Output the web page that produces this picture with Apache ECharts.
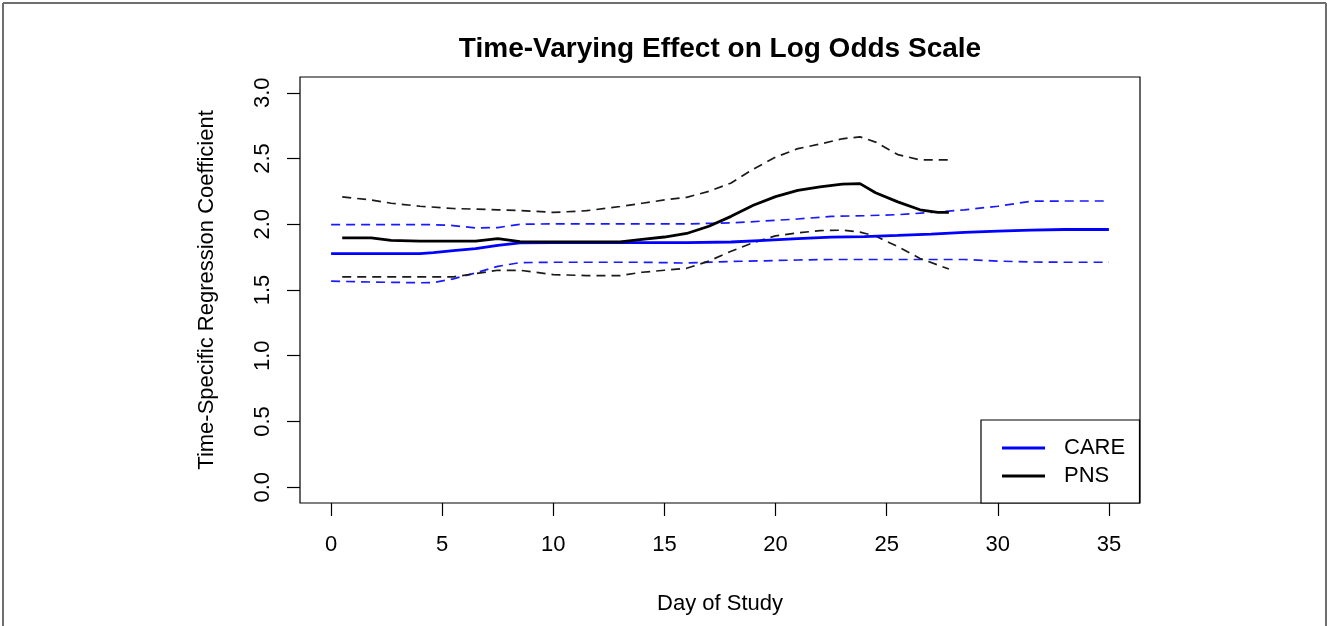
<!DOCTYPE html>
<html>
<head>
<meta charset="utf-8">
<script src="https://cdn.jsdelivr.net/npm/echarts@6/dist/echarts.min.js"></script>
<style>
html,body{margin:0;padding:0;background:#fff;}
#chart{width:1327px;height:626px;}
</style>
</head>
<body>
<div id="chart"></div>
<script>
// ---- Data ----
var xTicks = [0, 5, 10, 15, 20, 25, 30, 35];
var yTicks = [0, 0.5, 1, 1.5, 2, 2.5, 3];

var careDays  = [0, 2, 4, 4.6, 5.5, 6.5, 7.5, 8.5, 10, 12, 14, 16, 18, 19.5, 21, 22.5, 24, 25.5, 27, 28.5, 30, 31.5, 33, 35];
var careEst   = [1.777, 1.777, 1.777, 1.785, 1.800, 1.815, 1.840, 1.858, 1.860, 1.860, 1.860, 1.860, 1.865, 1.877, 1.890, 1.902, 1.906, 1.915, 1.925, 1.938, 1.948, 1.955, 1.960, 1.960];
var careUpper = [1.997, 1.997, 1.997, 1.997, 1.990, 1.972, 1.975, 2.000, 2.003, 2.003, 2.003, 2.003, 2.010, 2.025, 2.040, 2.060, 2.065, 2.073, 2.090, 2.110, 2.137, 2.175, 2.177, 2.177];
var careLower = [1.567, 1.560, 1.555, 1.556, 1.585, 1.630, 1.680, 1.708, 1.711, 1.711, 1.711, 1.705, 1.717, 1.722, 1.728, 1.732, 1.732, 1.732, 1.732, 1.732, 1.720, 1.713, 1.711, 1.711];

var pnsDays  = [0.5, 1.8, 2.7, 4, 5.5, 6.5, 7.5, 8.5, 10, 11.5, 13, 14, 15, 16, 17, 18, 19, 20, 21, 22, 23, 23.8, 24.5, 25.5, 26.5, 27.3, 27.8];
var pnsEst   = [1.896, 1.896, 1.878, 1.871, 1.871, 1.871, 1.890, 1.868, 1.866, 1.866, 1.866, 1.885, 1.903, 1.930, 1.985, 2.060, 2.145, 2.210, 2.258, 2.285, 2.305, 2.309, 2.240, 2.170, 2.110, 2.090, 2.090];
var pnsUpper = [2.208, 2.185, 2.160, 2.137, 2.120, 2.115, 2.110, 2.105, 2.090, 2.103, 2.135, 2.160, 2.185, 2.205, 2.250, 2.314, 2.420, 2.510, 2.575, 2.610, 2.650, 2.665, 2.625, 2.530, 2.490, 2.490, 2.490];
var pnsLower = [1.600, 1.600, 1.600, 1.600, 1.600, 1.625, 1.650, 1.650, 1.617, 1.610, 1.610, 1.635, 1.650, 1.665, 1.720, 1.795, 1.860, 1.912, 1.934, 1.952, 1.955, 1.940, 1.910, 1.830, 1.740, 1.690, 1.660];

var titleText = 'Time-Varying Effect on Log Odds Scale';
var xName = 'Day of Study';
var yName = 'Time-Specific Regression Coefficient';
var legendNames = ['CARE', 'PNS'];

function pairs(xs, ys) { return xs.map(function (x, i) { return [x, ys[i]]; }); }

var FONT = "'Liberation Sans', Arial, sans-serif";
var chart = echarts.init(document.getElementById('chart'), null, {renderer: 'canvas'});

function lineSeries(name, xs, ys, color, width, dashed) {
  return {
    name: name, type: 'line', data: pairs(xs, ys),
    symbol: 'none', showSymbol: false, smooth: false, silent: true,
    lineStyle: {color: color, width: width, type: dashed ? [9, 6] : 'solid'},
    itemStyle: {color: color},
    z: dashed ? 2 : 3
  };
}

var option = {
  animation: false,
  backgroundColor: '#fff',
  title: {
    text: titleText, left: 720, top: 35, textAlign: 'center', padding: 0,
    textStyle: {fontFamily: FONT, fontSize: 28, fontWeight: 'bold', color: '#000'}
  },
  grid: {left: 300, right: 187, top: 77, bottom: 123, show: true, borderColor: '#000', borderWidth: 1.2, backgroundColor: 'transparent'},
  xAxis: {
    type: 'value', min: -1.4, max: 36.4,
    name: xName, nameLocation: 'middle', nameGap: 90,
    nameTextStyle: {fontFamily: FONT, fontSize: 22, color: '#000'},
    axisLine: {show: false, onZero: false},
    splitLine: {show: false},
    axisTick: {show: true, customValues: xTicks, length: 13, lineStyle: {color: '#000', width: 1.2}},
    axisLabel: {customValues: xTicks, margin: 31, fontFamily: FONT, fontSize: 22, color: '#000'}
  },
  yAxis: {
    type: 'value', min: -0.12, max: 3.12,
    name: yName, nameLocation: 'middle', nameGap: 82,
    nameTextStyle: {fontFamily: FONT, fontSize: 22, color: '#000'},
    axisLine: {show: false, onZero: false},
    splitLine: {show: false},
    axisTick: {show: true, customValues: yTicks, length: 13, lineStyle: {color: '#000', width: 1.2}},
    axisLabel: {customValues: yTicks, rotate: 90, margin: 26, fontFamily: FONT, fontSize: 22, color: '#000',
      formatter: function (v) { return v.toFixed(1); }}
  },
  legend: {
    data: legendNames, orient: 'vertical', left: 1002, top: 437, z: 10, padding: 0,
    icon: 'rect', itemWidth: 43, itemHeight: 3, itemGap: 6, selectedMode: false,
    textStyle: {fontFamily: FONT, fontSize: 22, color: '#000', padding: [0, 0, 0, 14]}
  },
  graphic: [
    {type: 'rect', z: 5, shape: {x: 981, y: 420, width: 158.5, height: 83}, style: {fill: '#fff', stroke: '#000', lineWidth: 1.2}},
    {type: 'line', z: 20, shape: {x1: 3, y1: 3, x2: 1326, y2: 3}, style: {stroke: '#6e6e6e', lineWidth: 2}},
    {type: 'line', z: 20, shape: {x1: 3, y1: 3, x2: 3, y2: 626}, style: {stroke: '#6e6e6e', lineWidth: 2}},
    {type: 'line', z: 20, shape: {x1: 1326, y1: 3, x2: 1326, y2: 626}, style: {stroke: '#6e6e6e', lineWidth: 2}}
  ],
  series: [
    lineSeries('CARE upper', careDays, careUpper, '#1a1aff', 1.7, true),
    lineSeries('CARE lower', careDays, careLower, '#1a1aff', 1.7, true),
    lineSeries('PNS upper', pnsDays, pnsUpper, '#1a1a1a', 1.7, true),
    lineSeries('PNS lower', pnsDays, pnsLower, '#1a1a1a', 1.7, true),
    lineSeries('CARE', careDays, careEst, '#0000ff', 2.8, false),
    lineSeries('PNS', pnsDays, pnsEst, '#000000', 2.8, false)
  ]
};
chart.setOption(option);
</script>
</body>
</html>
